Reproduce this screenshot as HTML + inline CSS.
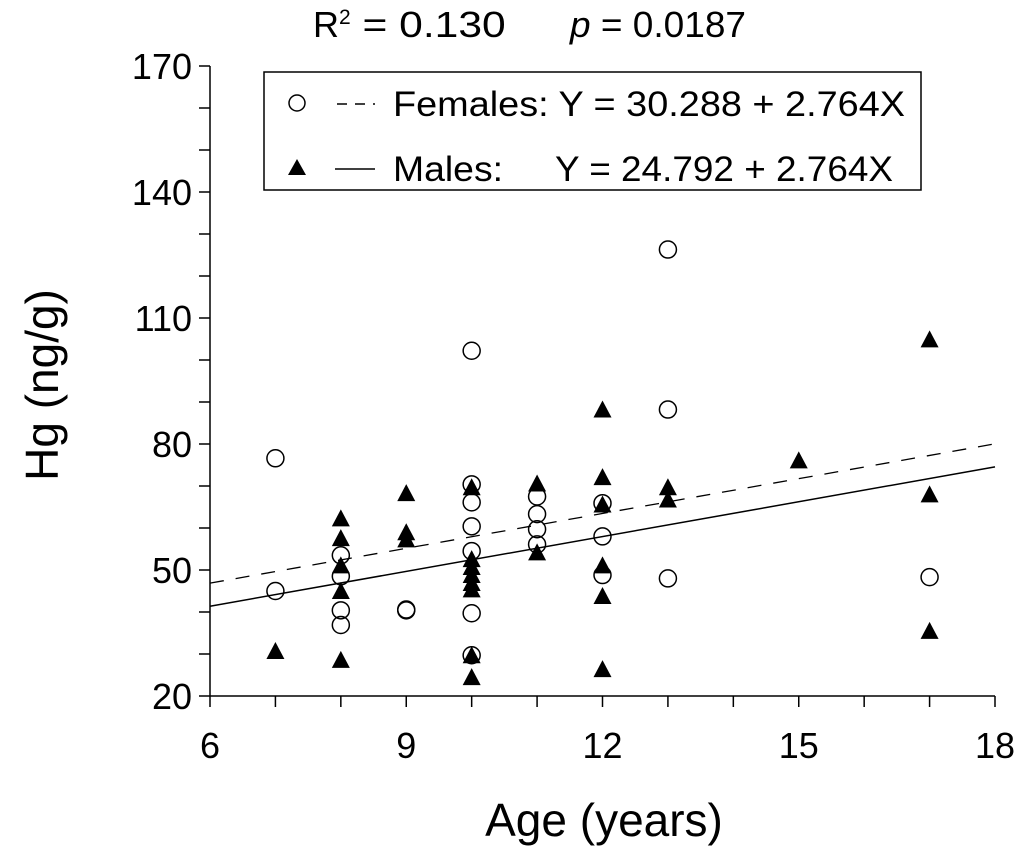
<!DOCTYPE html>
<html><head><meta charset="utf-8"><style>
html,body{margin:0;padding:0;background:#fff}
svg{display:block;font-family:"Liberation Sans",Arial,sans-serif}
</style></head><body>
<svg id="chart" width="1024" height="851" viewBox="0 0 1024 851">
<text x="313" y="37" font-size="36">R<tspan font-size="21" dy="-13">2</tspan><tspan dy="13" textLength="155" lengthAdjust="spacingAndGlyphs"> = 0.130</tspan></text>
<text x="570" y="37" font-size="36" textLength="176" lengthAdjust="spacingAndGlyphs"><tspan font-style="italic">p</tspan> = 0.0187</text>
<text transform="translate(58,385) rotate(-90)" text-anchor="middle" font-size="46">Hg (ng/g)</text>
<text x="604" y="836" text-anchor="middle" font-size="46">Age (years)</text>
<g id="axes"></g>
<g id="lines"></g>
<g id="marks"></g>
<g>
<rect x="264" y="72" width="657" height="118" fill="#fff" stroke="#000" stroke-width="1.5"/>
<circle cx="297" cy="103" r="8" fill="#fff" stroke="#000" stroke-width="1.5"/>
<line x1="337" y1="104" x2="375" y2="104" stroke="#000" stroke-width="1.5" stroke-dasharray="10,8"/>
<text x="393" y="116" font-size="35" textLength="512" lengthAdjust="spacingAndGlyphs">Females:  Y = 30.288 + 2.764X</text>
<polygon points="297,159 288,175 306,175" fill="#000"/>
<line x1="335" y1="169" x2="375" y2="169" stroke="#000" stroke-width="1.5"/>
<text x="393" y="181" font-size="35" textLength="110" lengthAdjust="spacingAndGlyphs">Males:</text>
<text x="555" y="181" font-size="35" textLength="338" lengthAdjust="spacingAndGlyphs">Y = 24.792 + 2.764X</text>
</g>
</svg>
<script>
const xTicks=[6,9,12,15,18];
const yTicks=[20,50,80,110,140,170];
const femaleAge=[7,7,8,8,8,8,9,9,10,10,10,10,10,10,10,11,11,11,11,12,12,12,13,13,13,17];
const femaleHg=[76.6,45,53.5,48.5,40.4,36.9,40.4,40.6,102.2,70.4,66.1,60.4,54.5,39.7,29.7,67.5,63.3,59.7,56.1,65.9,58,48.8,126.3,88.2,48,48.3];
const maleAge=[7,8,8,8,8,8,9,9,9,10,10,10,10,10,10,10,10,11,11,12,12,12,12,12,12,13,13,15,17,17,17];
const maleHg=[30.7,62.3,57.6,51.1,45,28.6,68.3,59,57.3,69.7,52.6,50.7,48.8,46.9,45.4,29.7,24.5,70.6,54.2,88.2,72.1,65.6,51.1,43.8,26.4,69.7,66.8,76.1,104.9,68,35.5];
const femaleIntercept=30.288, maleIntercept=24.792, slope=2.764;
const NS='http://www.w3.org/2000/svg';
const X0=210,X1=995,Y0=696,Y1=66;
const sx=v=>X0+(v-6)/(18-6)*(X1-X0);
const sy=v=>Y0-(v-20)/(170-20)*(Y0-Y1);
function mk(tag,attrs,parent){const e=document.createElementNS(NS,tag);for(const k in attrs)e.setAttribute(k,attrs[k]);parent.appendChild(e);return e;}
const axes=document.getElementById('axes');
let e=mk('line',{x1:X0,y1:Y1,x2:X0,y2:Y0,stroke:'#000','stroke-width':1.5},axes);


e=mk('line',{x1:X0,y1:Y0,x2:X1,y2:Y0,stroke:'#000','stroke-width':1.5},axes);


for(let v=20;v<=170;v+=10){e=mk('line',{x1:X0-11,y1:sy(v),x2:X0,y2:sy(v),stroke:'#000','stroke-width':1.5},axes);

}
for(let v=6;v<=18;v+=1){e=mk('line',{x1:sx(v),y1:Y0,x2:sx(v),y2:Y0+11,stroke:'#000','stroke-width':1.5},axes);

}
yTicks.forEach(v=>{e=mk('text',{x:X0-18,y:sy(v)+13,'text-anchor':'end','font-size':36},axes);e.textContent=v;

});
xTicks.forEach(v=>{e=mk('text',{x:sx(v),y:Y0+62,'text-anchor':'middle','font-size':36},axes);e.textContent=v;

});
const lines=document.getElementById('lines');
e=mk('line',{x1:sx(6),y1:sy(femaleIntercept+slope*6),x2:sx(18),y2:sy(femaleIntercept+slope*18),stroke:'#000','stroke-width':1.3,'stroke-dasharray':'14,12'},lines);


e=mk('line',{x1:sx(6),y1:sy(maleIntercept+slope*6),x2:sx(18),y2:sy(maleIntercept+slope*18),stroke:'#000','stroke-width':1.5},lines);


const marks=document.getElementById('marks');
femaleAge.forEach((a,i)=>{e=mk('circle',{cx:sx(a),cy:sy(femaleHg[i]),r:8.5,fill:'none',stroke:'#000','stroke-width':1.5},marks);

});
maleAge.forEach((a,i)=>{const x=sx(a),y=sy(maleHg[i]);e=mk('polygon',{points:`${x},${y-9} ${x-9},${y+8} ${x+9},${y+8}`,fill:'#000'},marks);

});
</script>
</body></html>
